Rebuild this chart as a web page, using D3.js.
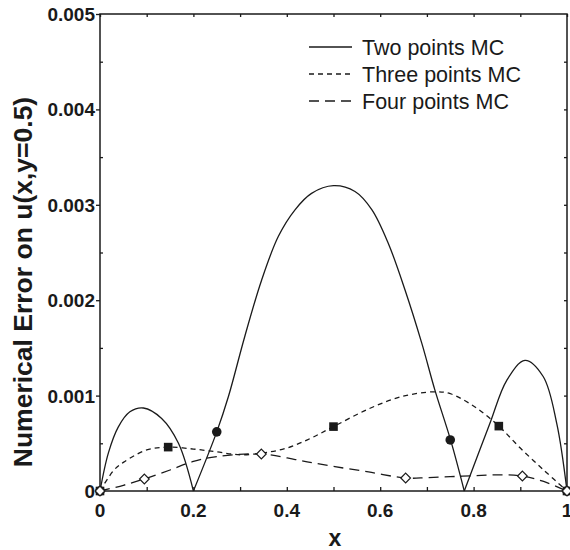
<!DOCTYPE html>
<html>
<head>
<meta charset="utf-8">
<script src="https://cdn.jsdelivr.net/npm/d3@7/dist/d3.min.js"></script>
<style>
  body { margin: 0; background: #fff; }
  svg text { font-family: "Liberation Sans", Arial, Helvetica, sans-serif; fill: #1a1a1a; }
</style>
</head>
<body>
<div id="chart"></div>
<script>
// data
var twoX = [0, 0.018, 0.039, 0.064, 0.093, 0.132, 0.168, 0.2, 0.25, 0.275, 0.31, 0.346, 0.382, 0.418, 0.453, 0.5, 0.546, 0.582, 0.617, 0.653, 0.689, 0.717, 0.751, 0.78, 0.835, 0.871, 0.91, 0.949, 0.978, 1];
var twoY = [0, 0.0004, 0.00067, 0.00083, 0.00087, 0.00076, 0.0005, 0, 0.00062, 0.00099, 0.00162, 0.00221, 0.00267, 0.00295, 0.00312, 0.0032, 0.00314, 0.00295, 0.0026, 0.00211, 0.00155, 0.00106, 0.00053, 0, 0.00071, 0.00116, 0.00137, 0.0012, 0.00071, 0];

var threeX = [0, 0.03, 0.05, 0.1, 0.146, 0.2, 0.25, 0.3, 0.35, 0.4, 0.45, 0.5, 0.575, 0.646, 0.717, 0.75, 0.803, 0.854, 0.9, 0.95, 1];
var threeY = [0, 0.00022, 0.0003, 0.00043, 0.00046, 0.00044, 0.00041, 0.00038, 0.0004, 0.00045, 0.00055, 0.000675, 0.00086, 0.00099, 0.00104, 0.00102, 0.00088, 0.00068, 0.00045, 0.00022, 0];

var fourX = [0, 0.05, 0.095, 0.15, 0.2, 0.25, 0.3455, 0.418, 0.45, 0.503, 0.575, 0.6545, 0.7, 0.75, 0.8, 0.85, 0.9045, 0.95, 1];
var fourY = [0, 0.00006, 0.000126, 0.00022, 0.00031, 0.00036, 0.000388, 0.00033, 0.0003, 0.000255, 0.0002, 0.000136, 0.00014, 0.00015, 0.00016, 0.00017, 0.000157, 0.0001, 0];

var circX = [0, 0.25, 0.75, 1];
var circY = [0, 0.00062, 0.000535, 0];
var sqX = [0, 0.146, 0.5, 0.854, 1];
var sqY = [0, 0.00046, 0.000675, 0.00068, 0];
var diaX = [0, 0.095, 0.3455, 0.6545, 0.9045, 1];
var diaY = [0, 0.000126, 0.000388, 0.000136, 0.000157, 0];

var xTicks = [0, 0.2, 0.4, 0.6, 0.8, 1];
var xTickLabels = ["0", "0.2", "0.4", "0.6", "0.8", "1"];
var yTicks = [0, 0.001, 0.002, 0.003, 0.004, 0.005];
var yTickLabels = ["0", "0.001", "0.002", "0.003", "0.004", "0.005"];
var legendNames = ["Two points MC", "Three points MC", "Four points MC"];

(function() {
    var width = 570, height = 550
    var pl = 100, pr = 567, pt = 14, pb = 491

    var svg = d3.select("#chart")
        .append("svg")
        .attr("width", width)
        .attr("height", height)

    var x = d3.scaleLinear().domain([0, 1]).range([pl, pr])
    var y = d3.scaleLinear().domain([0, 0.005]).range([pb, pt])

    var ink = "#1a1a1a"

    // axes: ticks in the style of the picture
    var minorX = d3.range(0, 11).map(function(i) { return i / 10 })
    var minorY = d3.range(1, 10, 2).map(function(i) { return i * 0.0005 })
    var rightY = d3.range(1, 10).map(function(i) { return i * 0.0005 })

    function styleAxis(g) {
        g.select(".domain").remove()
        g.selectAll("line").attr("stroke", ink).attr("stroke-width", 1.3)
        g.selectAll("text").remove()
    }

    svg.append("g").attr("transform", "translate(0," + pb + ")")
        .call(d3.axisBottom(x).tickValues(minorX).tickSize(-4))
        .call(styleAxis)
    svg.append("g").attr("transform", "translate(0," + pt + ")")
        .call(d3.axisTop(x).tickValues(minorX).tickSize(-3))
        .call(styleAxis)
    svg.append("g").attr("transform", "translate(" + pl + ",0)")
        .call(d3.axisLeft(y).tickValues(yTicks).tickSize(4))
        .call(styleAxis)
    svg.append("g").attr("transform", "translate(" + pl + ",0)")
        .call(d3.axisLeft(y).tickValues(minorY).tickSize(-3))
        .call(styleAxis)
    svg.append("g").attr("transform", "translate(" + pr + ",0)")
        .call(d3.axisRight(y).tickValues(rightY).tickSize(-3))
        .call(styleAxis)

    svg.append("rect")
        .attr("x", pl).attr("y", pt)
        .attr("width", pr - pl).attr("height", pb - pt)
        .attr("fill", "none").attr("stroke", ink).attr("stroke-width", 1.5)

    // tick labels
    svg.selectAll(".xlab")
        .data(xTicks)
        .enter()
        .append("text")
        .attr("class", "xlab")
        .attr("x", function(d) { return x(d) })
        .attr("y", pb + 26)
        .attr("text-anchor", "middle")
        .attr("font-size", 19)
        .attr("font-weight", "bold")
        .text(function(d, i) { return xTickLabels[i] })

    svg.selectAll(".ylab")
        .data(yTicks)
        .enter()
        .append("text")
        .attr("class", "ylab")
        .attr("x", pl - 5)
        .attr("y", function(d) { return y(d) + 7 })
        .attr("text-anchor", "end")
        .attr("font-size", 19)
        .attr("font-weight", "bold")
        .text(function(d, i) { return yTickLabels[i] })

    svg.append("text")
        .attr("x", 335)
        .attr("y", 546)
        .attr("text-anchor", "middle")
        .attr("font-size", 23)
        .attr("font-weight", "bold")
        .text("x")

    svg.append("text")
        .attr("transform", "translate(32,282) rotate(-90)")
        .attr("text-anchor", "middle")
        .attr("font-size", 26.5)
        .attr("font-weight", "bold")
        .text("Numerical Error on u(x,y=0.5)")

    // curves
    var line = d3.line()
        .x(function(d) { return x(d[0]) })
        .y(function(d) { return y(d[1]) })
        .curve(d3.curveCatmullRom.alpha(0.5))

    function pairs(xs, ys) {
        return xs.map(function(v, i) { return [v, ys[i]] })
    }

    // split the solid curve at its interior zeros so the dips stay sharp
    var twoPts = pairs(twoX, twoY)
    var segs = [], cur = []
    twoPts.forEach(function(p, i) {
        cur.push(p)
        if (p[1] === 0 && i > 0 && i < twoPts.length - 1) {
            segs.push(cur)
            cur = [p]
        }
    })
    segs.push(cur)

    var plot = svg.append("g")

    plot.selectAll(".two")
        .data(segs)
        .enter()
        .append("path")
        .attr("class", "two")
        .attr("d", line)
        .attr("fill", "none")
        .attr("stroke", ink)
        .attr("stroke-width", 1.3)

    plot.append("path")
        .attr("d", line(pairs(threeX, threeY)))
        .attr("fill", "none")
        .attr("stroke", ink)
        .attr("stroke-width", 1.3)
        .attr("stroke-dasharray", "5,4")

    plot.append("path")
        .attr("d", line(pairs(fourX, fourY)))
        .attr("fill", "none")
        .attr("stroke", ink)
        .attr("stroke-width", 1.3)
        .attr("stroke-dasharray", "10,6")

    // markers
    plot.selectAll(".circ")
        .data(pairs(circX, circY))
        .enter()
        .append("circle")
        .attr("cx", function(d) { return x(d[0]) })
        .attr("cy", function(d) { return y(d[1]) })
        .attr("r", 4.8)
        .attr("fill", ink)

    plot.selectAll(".sq")
        .data(pairs(sqX, sqY))
        .enter()
        .append("rect")
        .attr("x", function(d) { return x(d[0]) - 4.3 })
        .attr("y", function(d) { return y(d[1]) - 4.3 })
        .attr("width", 8.6)
        .attr("height", 8.6)
        .attr("fill", ink)

    var diamond = d3.symbol().type(d3.symbolDiamond2).size(60)
    plot.selectAll(".dia")
        .data(pairs(diaX, diaY))
        .enter()
        .append("path")
        .attr("d", diamond)
        .attr("transform", function(d) { return "translate(" + x(d[0]) + "," + y(d[1]) + ")" })
        .attr("fill", "#fff")
        .attr("stroke", ink)
        .attr("stroke-width", 1.2)

    // legend
    var dashes = [null, "5,4", "10,6"]
    var legend = svg.append("g")
    legendNames.forEach(function(name, i) {
        var ly = 47 + i * 27
        legend.append("line")
            .attr("x1", 309).attr("x2", 352)
            .attr("y1", ly).attr("y2", ly)
            .attr("stroke", ink)
            .attr("stroke-width", 1.3)
            .attr("stroke-dasharray", dashes[i])
        legend.append("text")
            .attr("x", 362)
            .attr("y", ly + 7.5)
            .attr("font-size", 21.5)
            .text(name)
    })
})();
</script>
</body>
</html>
